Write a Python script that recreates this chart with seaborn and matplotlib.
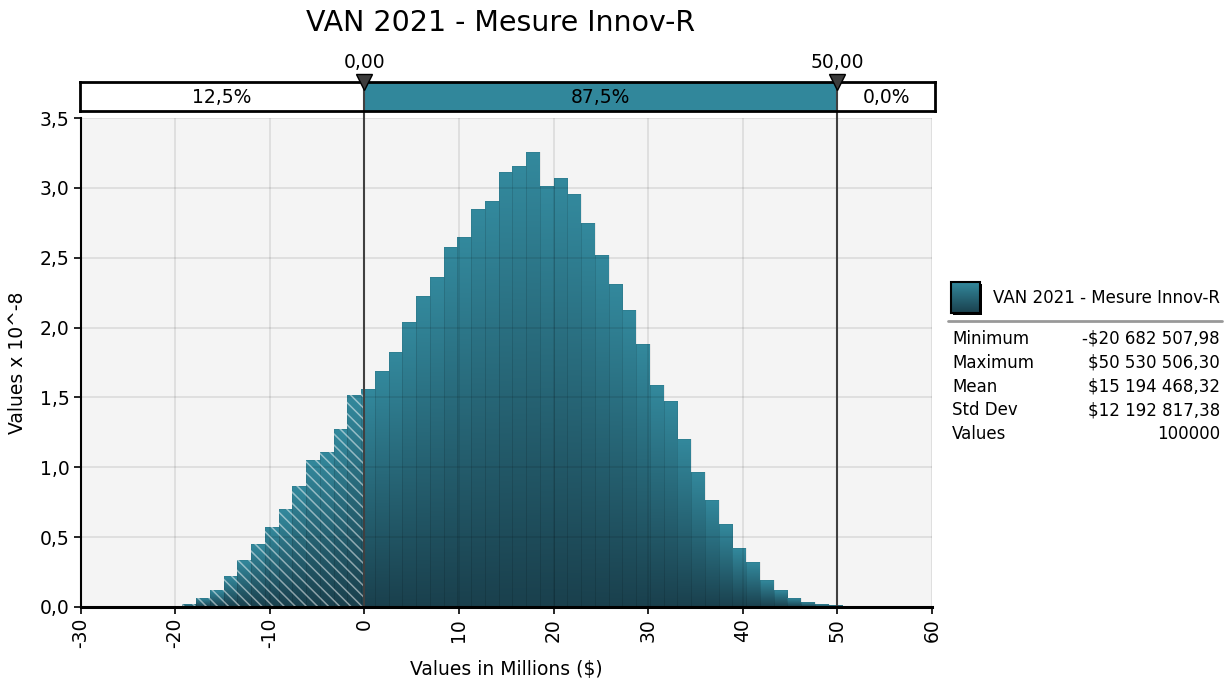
import numpy as np
import pandas as pd
import matplotlib
matplotlib.use("Agg")
import matplotlib.pyplot as plt
import seaborn as sns
from matplotlib.colors import LinearSegmentedColormap
from matplotlib.patches import Rectangle
from matplotlib.ticker import FuncFormatter

# --- Data ---
title = "VAN 2021 - Mesure Innov-R"
value_min = -20.6825   # millions $
value_max = 50.5305
n_bins = 49
# density per bin, in units of 10^-8
densities = [0.010, 0.019, 0.062, 0.119, 0.219, 0.334, 0.448, 0.576, 0.698, 0.867,
             1.055, 1.112, 1.276, 1.519, 1.562, 1.691, 1.826, 2.041, 2.226, 2.362,
             2.576, 2.648, 2.848, 2.905, 3.112, 3.155, 3.255, 3.012, 3.069, 2.955,
             2.748, 2.519, 2.312, 2.126, 1.884, 1.591, 1.476, 1.205, 0.969, 0.769,
             0.591, 0.419, 0.319, 0.191, 0.119, 0.062, 0.034, 0.019, 0.012]
markers = [0.0, 50.0]
marker_labels = ["0,00", "50,00"]
band_labels = ["12,5%", "87,5%", "0,0%"]
stat_names = ["Minimum", "Maximum", "Mean", "Std Dev", "Values"]
stat_values = ["-$20 682 507,98", "$50 530 506,30", "$15 194 468,32",
               "$12 192 817,38", "100000"]

# --- Style ---
TEAL = "#31879b"
DARK = "#1a404d"
LIGHT = "#33899d"
W, H = 1228, 688

sns.set_theme(style="white")
plt.rcParams['font.family'] = ['DejaVu Sans']
plt.rcParams['hatch.linewidth'] = 1.1
plt.rcParams['text.color'] = 'black'
plt.rcParams['axes.labelcolor'] = 'black'
plt.rcParams['xtick.color'] = 'black'
plt.rcParams['ytick.color'] = 'black'

fig = plt.figure(figsize=(W / 100, H / 100), dpi=100)

# main histogram axes (pixel box 80.5..932 x 118..607)
ax = fig.add_axes([80.5 / W, 1 - 607 / H, 851.5 / W, 489 / H])
ax.set_facecolor("#f4f4f4")

edges = np.linspace(value_min, value_max, n_bins + 1)
df = pd.DataFrame({"value": (edges[:-1] + edges[1:]) / 2, "density": densities})
sns.histplot(data=df, x="value", weights="density", bins=list(edges), ax=ax,
             stat="count", element="bars", fill=True, linewidth=0)

cmap = LinearSegmentedColormap.from_list("teal", [DARK, LIGHT])
grad = np.linspace(0, 1, 256).reshape(-1, 1)
for p in list(ax.patches):
    x0, w, h = p.get_x(), p.get_width(), p.get_height()
    p.set_facecolor("none")
    p.set_edgecolor((0, 0, 0, 0.07))
    p.set_linewidth(0.6)
    p.set_zorder(3)
    im = ax.imshow(grad, extent=(x0, x0 + w, 0, h), origin="lower", cmap=cmap,
                   aspect="auto", zorder=2)
    im.set_clip_path(p)
    # hatch the part below zero
    if x0 < 0:
        ax.add_patch(Rectangle((x0, 0), min(x0 + w, 0) - x0, h, fill=False,
                               hatch="\\\\\\", edgecolor=(1, 1, 1, 0.5), lw=0,
                               zorder=4))

for m in markers:
    ax.axvline(m, ymin=0, ymax=1 + 8 / 489, color="#404040", lw=1.5,
               zorder=6, clip_on=False)

ax.set_xlim(-30, 60)
ax.set_ylim(0, 3.5)
ax.set_xticks(np.arange(-30, 61, 10))
ax.set_yticks(np.arange(0, 3.51, 0.5))
ax.xaxis.set_major_formatter(FuncFormatter(lambda v, _: f"{v:.0f}"))
ax.yaxis.set_major_formatter(FuncFormatter(lambda v, _: f"{v:.1f}".replace(".", ",")))
ax.grid(True, color="black", alpha=0.09, lw=1.3)
ax.set_axisbelow(False)
for s in ["top", "right"]:
    ax.spines[s].set_visible(False)
ax.spines["left"].set_color("black")
ax.spines["left"].set_linewidth(1.5)
ax.spines["bottom"].set_color("black")
ax.spines["bottom"].set_linewidth(2.2)
ax.spines["bottom"].set_zorder(7)
ax.tick_params(axis="both", direction="out", length=5, width=1.2, color="black",
               labelsize=13.5, pad=3, bottom=True, left=True)
ax.tick_params(axis="x", labelrotation=90)
ax.set_xlabel("Values in Millions ($)", fontsize=13.5, labelpad=8)
ax.set_ylabel("Values x 10^-8", fontsize=13.5, labelpad=9)

# --- percentile band on top ---
bx = fig.add_axes([80 / W, 1 - 111 / H, 855 / W, 29 / H])
bx.set_xlim(-30.05, 60.32)
bx.set_ylim(0, 1)
bx.set_facecolor("white")
bx.axvspan(markers[0], markers[1], color=TEAL, lw=0)
for m in markers:
    bx.axvline(m, color="#404040", lw=1.5)
bx.set_xticks([])
bx.set_yticks([])
for s in bx.spines.values():
    s.set_color("black")
    s.set_linewidth(2)
band_pos = [(-30.05 + markers[0]) / 2, (markers[0] + markers[1]) / 2,
            (markers[1] + 60.32) / 2]
for xp, lab in zip(band_pos, band_labels):
    bx.text(xp, 0.45, lab, ha="center", va="center", fontsize=13.5)
bx.plot(markers, [1.0, 1.0], linestyle="none", marker="v", ms=11.5,
        mfc="#3c3c3c", mec="black", mew=1, clip_on=False, zorder=8)
for m, lab in zip(markers, marker_labels):
    bx.text(m, 1.5, lab, ha="center", va="baseline", fontsize=13.5, clip_on=False)

fig.text(501 / W, 1 - 23 / H, title, ha="center", va="center", fontsize=20.5)

# --- legend / statistics panel, in pixel coordinates ---
lx = fig.add_axes([0, 0, 1, 1], zorder=10)
lx.axis("off")
lx.patch.set_alpha(0)
lx.add_patch(Rectangle((953, 284), 29, 31, fc="black", lw=0, zorder=1))
lx.imshow(grad, extent=(951, 980, 313, 282), origin="lower", cmap=cmap,
          aspect="auto", zorder=2)
lx.add_patch(Rectangle((951, 282), 29, 31, fill=False, ec="black", lw=1.5, zorder=3))
lx.text(993, 298, title, ha="left", va="center", fontsize=12)
lx.plot([948, 1222], [321, 321], color="#999999", lw=2)
for i, (name, val) in enumerate(zip(stat_names, stat_values)):
    y = 339 + i * 23.75
    lx.text(952, y, name, ha="left", va="center", fontsize=12)
    lx.text(1220, y, val, ha="right", va="center", fontsize=12)
lx.set_xlim(0, W)
lx.set_ylim(H, 0)

fig.savefig("out.png", dpi=100)
